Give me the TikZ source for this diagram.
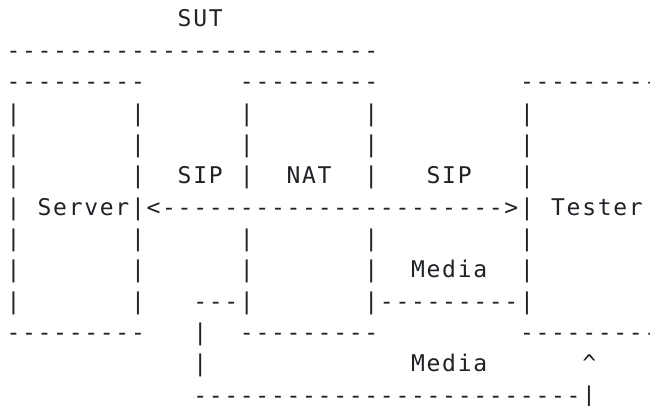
\documentclass[tikz,border=0pt]{standalone}
\usepackage{fontspec}
\setmonofont{DejaVu Sans Mono}
\definecolor{ink}{HTML}{1F2226}
\newlength\cw
\setlength\cw{15.56pt}
\ExplSyntaxOn
\NewDocumentCommand\gridrow{m}{\str_map_inline:nn {#1} {\makebox[\cw][c]{##1}}}
\ExplSyntaxOff
\tikzset{
  txt/.style={anchor=base west, inner sep=0pt, outer sep=0pt, text=ink,
    font=\ttfamily\fontsize{23}{27}\selectfont}
}
\newcommand\cell[4]{\node[txt] (#1) at ({5.7+15.56*(#2)},{-27-31.36*(#3)}) {\gridrow{#4}};}
\begin{document}
\begin{tikzpicture}[x=1pt,y=1pt]
\fill[white] (0,0) rectangle (650,-406);
\useasboundingbox (0,0) rectangle (650,-406);
% row 0
\cell{sut}{11}{0}{SUT}
% row 1
\cell{suttop}{0}{1}{------------------------}
% row 2 (box tops)
\cell{srvtop}{0}{2}{---------}
\cell{nattop}{15}{2}{---------}
\cell{tsttop}{33}{2}{---------}
% vertical bars
\foreach \r in {3,4,5,7,8} {
  \foreach \c in {0,8,15,23,33} {
    \cell{b\r-\c}{\c}{\r}{|}
  }
}
% row 5 labels
\cell{sipl}{11}{5}{SIP}
\cell{nat}{18}{5}{NAT}
\cell{sipr}{27}{5}{SIP}
% row 6
\cell{b6-0}{0}{6}{|}
\cell{srv}{2}{6}{Server|}
\cell{sipa}{9}{6}{<}
\cell{sipb}{10}{6}{----------}
\cell{sipc}{20}{6}{----------}
\cell{sipd}{30}{6}{-->}
\cell{b6-33}{33}{6}{|}
\cell{tester}{35}{6}{Tester}
% row 8
\cell{media1}{26}{8}{Media}
% row 9
\cell{b9-0}{0}{9}{|}
\cell{b9-8}{8}{9}{|}
\cell{natmed}{12}{9}{---|}
\cell{medline}{23}{9}{|---------|}
% row 10 (box bottoms)
\cell{srvbot}{0}{10}{---------}
\cell{b10-12}{12}{10}{|}
\cell{natbot}{15}{10}{---------}
\cell{tstbot}{33}{10}{---------}
% row 11
\cell{b11-12}{12}{11}{|}
\cell{media2}{26}{11}{Media}
\cell{up}{37}{11}{^}
% row 12
\cell{medbot}{12}{12}{-------------------------|}
\end{tikzpicture}
\end{document}
